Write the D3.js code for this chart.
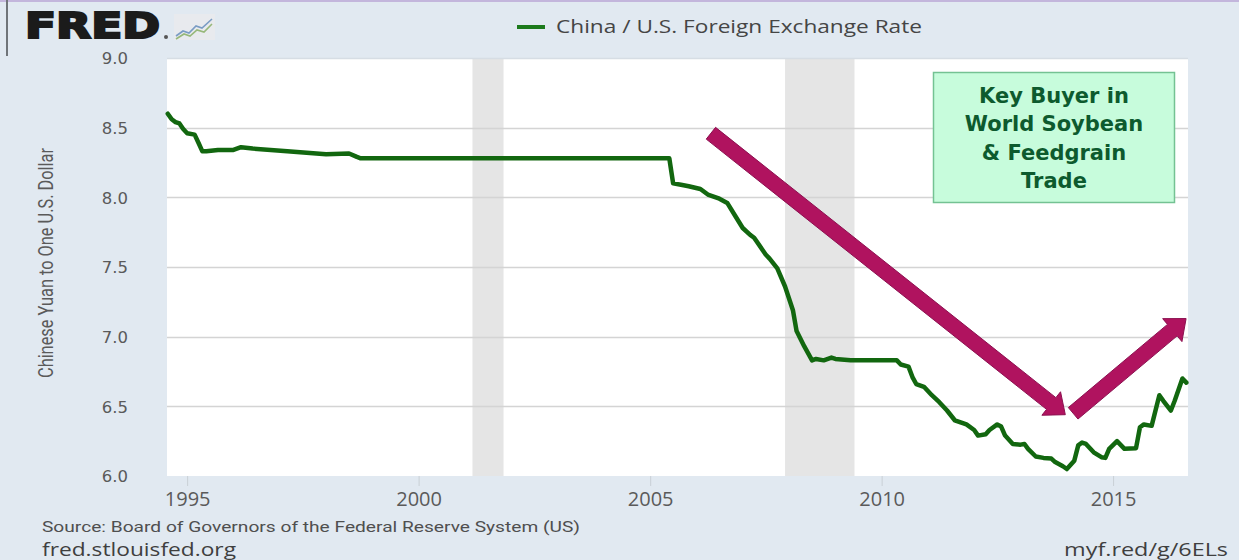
<!DOCTYPE html>
<html>
<head>
<meta charset="utf-8">
<script src="https://cdn.jsdelivr.net/npm/d3@7"></script>
<style>
  body { margin: 0; background: #e1e9f1; }
  svg { display: block; }
</style>
</head>
<body>
<div id="chart"></div>
<script>
// monthly China / U.S. exchange rate
let dates = ["1994-08","1994-09","1994-10","1994-11","1994-12","1995-01","1995-03","1995-04","1995-05","1995-06",
  "1995-09","1996-01","1996-03","1996-06","1997-03","1998-01","1998-07","1998-09","1998-10","2005-06",
  "2005-07","2005-09","2005-11","2006-02","2006-04","2006-07","2006-09","2006-11","2007-01","2007-03",
  "2007-04","2007-07","2007-08","2007-10","2007-12","2008-02","2008-03","2008-05","2008-07","2008-08",
  "2008-10","2008-12","2009-01","2009-05","2010-05","2010-06","2010-08","2010-09","2010-10","2010-12",
  "2011-02","2011-04","2011-06","2011-08","2011-11","2012-01","2012-02","2012-04","2012-05","2012-07",
  "2012-08","2012-09","2012-11","2013-01","2013-02","2013-03","2013-05","2013-07","2013-09","2013-10",
  "2013-12","2014-01","2014-03","2014-04","2014-05","2014-06","2014-08","2014-10","2014-11","2014-12",
  "2015-02","2015-04","2015-07","2015-08","2015-09","2015-11","2016-01","2016-02","2016-04","2016-05",
  "2016-07","2016-08"];
let rates = [8.60,8.56,8.54,8.53,8.49,8.46,8.45,8.39,8.33,8.33,
  8.34,8.34,8.36,8.35,8.33,8.31,8.315,8.29,8.28,8.28,
  8.10,8.09,8.08,8.06,8.02,7.99,7.96,7.87,7.78,7.73,
  7.71,7.59,7.56,7.49,7.36,7.19,7.04,6.93,6.83,6.84,
  6.83,6.85,6.84,6.83,6.83,6.80,6.785,6.71,6.66,6.64,
  6.58,6.53,6.47,6.40,6.37,6.33,6.29,6.30,6.33,6.37,
  6.355,6.29,6.23,6.225,6.23,6.195,6.14,6.13,6.125,6.10,
  6.07,6.05,6.11,6.22,6.24,6.23,6.17,6.135,6.13,6.195,
  6.25,6.195,6.20,6.35,6.37,6.36,6.58,6.54,6.47,6.54,
  6.70,6.67];

// recession shading (start, end)
let recessionStart = ["2001-03", "2007-12"];
let recessionEnd = ["2001-11", "2009-06"];

let yTicks = [6.0, 6.5, 7.0, 7.5, 8.0, 8.5, 9.0];
let xTickYears = [1995, 2000, 2005, 2010, 2015];

let seriesName = "China / U.S. Foreign Exchange Rate";
let yTitle = "Chinese Yuan to One U.S. Dollar";
let boxLines = ["Key Buyer in", "World Soybean", "& Feedgrain", "Trade"];

// arrows in data terms: [tail date, tail value, tip date, tip value]
let arrowDown = ["2006-04-25", 8.46, "2013-12-20", 6.44];
let arrowUp = ["2014-02-20", 6.45, "2016-07-30", 7.13];

// layout
let config = { svg: {}, plot: {} };
config.svg.width = 1239;
config.svg.height = 560;
config.plot.left = 167;
config.plot.right = 1188;
config.plot.top = 58;
config.plot.bottom = 476;

function translate(x, y) {
  return 'translate(' + x + ',' + y + ')';
}

let parseMonth = d3.timeParse("%Y-%m");
let parseDay = d3.timeParse("%Y-%m-%d");

let data = dates.map((d, i) => ({ date: parseMonth(d), value: rates[i] }));

let svg = d3.select("#chart").append("svg")
  .attr("width", config.svg.width)
  .attr("height", config.svg.height);

svg.append("rect")
  .attr("width", config.svg.width)
  .attr("height", config.svg.height)
  .attr("fill", "#e1e9f1");

// screenshot edges
svg.append("rect").attr("x", 0).attr("y", 0).attr("width", config.svg.width).attr("height", 2).attr("fill", "#c3b6dc");
svg.append("rect").attr("x", 6).attr("y", 0).attr("width", 2).attr("height", 56).attr("fill", "#6f7479");

let x = d3.scaleTime()
  .domain([new Date(1994, 6, 26), new Date(2016, 7, 14)])
  .range([config.plot.left, config.plot.right]);

let y = d3.scaleLinear()
  .domain([6, 9])
  .range([config.plot.bottom, config.plot.top]);

// plot background
svg.append("rect")
  .attr("x", config.plot.left)
  .attr("y", config.plot.top)
  .attr("width", config.plot.right - config.plot.left)
  .attr("height", config.plot.bottom - config.plot.top)
  .attr("fill", "#ffffff");

// recessions
svg.selectAll("rect.recession")
  .data(recessionStart)
  .enter()
  .append("rect")
  .attr("class", "recession")
  .attr("x", d => x(parseMonth(d)))
  .attr("y", config.plot.top)
  .attr("width", (d, i) => x(parseMonth(recessionEnd[i])) - x(parseMonth(d)))
  .attr("height", config.plot.bottom - config.plot.top)
  .attr("fill", "#e5e5e5");

// grid lines
svg.append("g")
  .selectAll("line")
  .data(yTicks.filter(t => t > 6))
  .enter()
  .append("line")
  .attr("x1", config.plot.left)
  .attr("x2", config.plot.right)
  .attr("y1", d => Math.round(y(d)) + 0.5)
  .attr("y2", d => Math.round(y(d)) + 0.5)
  .attr("stroke", d => d === 9 ? "#d6dde4" : "#d4d4d4")
  .attr("stroke-width", 1.5);

// y axis labels
let yAxis = svg.append("g")
  .attr("transform", translate(128, 0))
  .call(d3.axisLeft(y).tickValues(yTicks).tickFormat(d3.format(".1f")).tickSize(0).tickPadding(0));
yAxis.select(".domain").remove();
yAxis.selectAll("text")
  .attr("font-family", "DejaVu Sans, sans-serif")
  .attr("font-size", 16.5)
  .attr("fill", "#5a5a5a")
  .attr("dy", "0.36em");

// x axis
let xAxis = svg.append("g")
  .attr("transform", translate(0, config.plot.bottom))
  .call(d3.axisBottom(x)
    .tickValues(xTickYears.map(yr => new Date(yr, 0, 1)))
    .tickFormat(d3.timeFormat("%Y"))
    .tickSize(10)
    .tickPadding(6));
xAxis.select(".domain").remove();
xAxis.selectAll("line").attr("stroke", "#c9d0d6");
xAxis.selectAll("text")
  .attr("font-family", "Open Sans, sans-serif")
  .attr("font-size", 20)
  .attr("fill", "#5a5a5a");

// y axis title
svg.append("text")
  .attr("transform", translate(53, 263) + " rotate(-90)")
  .attr("text-anchor", "middle")
  .attr("font-family", "Roboto, sans-serif")
  .attr("font-size", 21)
  .attr("textLength", 230)
  .attr("lengthAdjust", "spacingAndGlyphs")
  .attr("fill", "#5a5a5a")
  .text(yTitle);

// series line
let line = d3.line()
  .x(d => x(d.date))
  .y(d => y(d.value));

svg.append("path")
  .datum(data)
  .attr("d", line)
  .attr("fill", "none")
  .attr("stroke", "#12670f")
  .attr("stroke-width", 4.5)
  .attr("stroke-linejoin", "round")
  .attr("stroke-linecap", "round");

// legend
svg.append("line")
  .attr("x1", 517).attr("x2", 545)
  .attr("y1", 27).attr("y2", 27)
  .attr("stroke", "#1c7a1c")
  .attr("stroke-width", 4);
svg.append("text")
  .attr("x", 556).attr("y", 33)
  .attr("font-family", "Open Sans, sans-serif")
  .attr("font-size", 18)
  .attr("textLength", 366)
  .attr("lengthAdjust", "spacingAndGlyphs")
  .attr("fill", "#454545")
  .text(seriesName);

// FRED logo
svg.append("text")
  .attr("x", 25).attr("y", 38)
  .attr("font-family", "DejaVu Sans, sans-serif")
  .attr("font-weight", "bold")
  .attr("font-size", 36)
  .attr("textLength", 135)
  .attr("lengthAdjust", "spacingAndGlyphs")
  .attr("fill", "#1b1b1b")
  .attr("stroke", "#1b1b1b")
  .attr("stroke-width", 2.2)
  .attr("stroke-linejoin", "miter")
  .text("FRED");
svg.append("circle").attr("cx", 166).attr("cy", 37).attr("r", 2).attr("fill", "#555");
let logo = svg.append("g").attr("transform", translate(174, 14));
logo.append("rect").attr("width", 41).attr("height", 26).attr("fill", "#e8eaee");
logo.append("path").attr("d", "M2,22 L9,17 L15,19 L22,12 L28,14 L38,5")
  .attr("fill", "none").attr("stroke", "#7a9cc4").attr("stroke-width", 1.6);
logo.append("path").attr("d", "M2,25 L10,20 L16,22 L23,16 L30,18 L38,10")
  .attr("fill", "none").attr("stroke", "#97b87a").attr("stroke-width", 1.6);

// source / footer
svg.append("text")
  .attr("x", 42).attr("y", 532)
  .attr("font-family", "Roboto, sans-serif")
  .attr("font-size", 15.5)
  .attr("textLength", 538)
  .attr("lengthAdjust", "spacingAndGlyphs")
  .attr("fill", "#4f4f4f")
  .text("Source: Board of Governors of the Federal Reserve System (US)");
svg.append("text")
  .attr("x", 42).attr("y", 556)
  .attr("font-family", "Open Sans, sans-serif")
  .attr("font-size", 17.5)
  .attr("textLength", 194)
  .attr("lengthAdjust", "spacingAndGlyphs")
  .attr("fill", "#3f3f3f")
  .text("fred.stlouisfed.org");
svg.append("text")
  .attr("x", 1064).attr("y", 556)
  .attr("font-family", "Open Sans, sans-serif")
  .attr("font-size", 17.5)
  .attr("textLength", 164)
  .attr("lengthAdjust", "spacingAndGlyphs")
  .attr("fill", "#3f3f3f")
  .text("myf.red/g/6ELs");

// annotation box
svg.append("rect")
  .attr("x", 933.5).attr("y", 72.5)
  .attr("width", 241).attr("height", 130)
  .attr("fill", "#c7fcdc")
  .attr("stroke", "#74c293")
  .attr("stroke-width", 1.5);
svg.append("g")
  .selectAll("text")
  .data(boxLines)
  .enter()
  .append("text")
  .attr("x", 1054)
  .attr("y", (d, i) => 103 + i * 28.3)
  .attr("text-anchor", "middle")
  .attr("font-family", "DejaVu Sans, sans-serif")
  .attr("font-weight", "bold")
  .attr("font-size", 21)
  .attr("fill", "#0d5a2e")
  .text(d => d);

// arrows
function arrowPath(a) {
  let x0 = x(parseDay(a[0])), y0 = y(a[1]);
  let x1 = x(parseDay(a[2])), y1 = y(a[3]);
  let len = Math.hypot(x1 - x0, y1 - y0);
  let ux = (x1 - x0) / len, uy = (y1 - y0) / len;
  let nx = -uy, ny = ux;
  let shaft = 7.5, head = 15, headLen = 18;
  let bx = x1 - ux * headLen, by = y1 - uy * headLen;
  let pts = [
    [x0 + nx * shaft, y0 + ny * shaft],
    [bx + nx * shaft, by + ny * shaft],
    [bx + nx * head, by + ny * head],
    [x1, y1],
    [bx - nx * head, by - ny * head],
    [bx - nx * shaft, by - ny * shaft],
    [x0 - nx * shaft, y0 - ny * shaft]
  ];
  return "M" + pts.map(p => p.join(",")).join("L") + "Z";
}

svg.selectAll("path.arrow")
  .data([arrowDown, arrowUp])
  .enter()
  .append("path")
  .attr("class", "arrow")
  .attr("d", arrowPath)
  .attr("fill", "#b0135f")
  .attr("stroke", "#8c1050")
  .attr("stroke-width", 1);
</script>
</body>
</html>
